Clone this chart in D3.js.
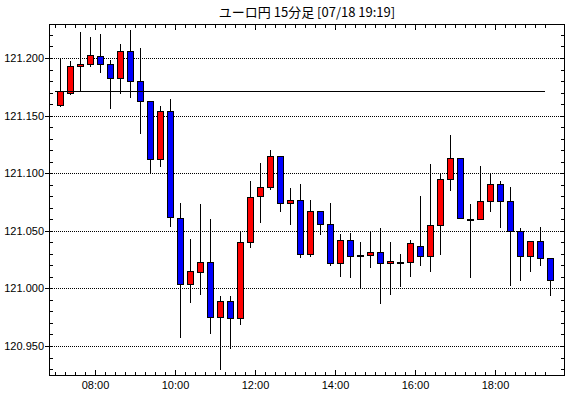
<!DOCTYPE html>
<html><head><meta charset="utf-8">
<script src="https://cdn.jsdelivr.net/npm/d3@7"></script>
<style>body{margin:0;background:#fff}svg{display:block}</style>
</head><body>
<svg id="c" width="570" height="398"></svg>
<script>
const title = "ユーロ円 15分足 [07/18 19:19]";
const times = ["07:00","07:15","07:30","07:45","08:00","08:15","08:30","08:45","09:00","09:15",
"09:30","09:45","10:00","10:15","10:30","10:45","11:00","11:15","11:30","11:45",
"12:00","12:15","12:30","12:45","13:00","13:15","13:30","13:45","14:00","14:15",
"14:30","14:45","15:00","15:15","15:30","15:45","16:00","16:15","16:30","16:45",
"17:00","17:15","17:30","17:45","18:00","18:15","18:30","18:45","19:00","19:15"];
const open = [121.159,121.170,121.193,121.195,121.202,121.195,121.183,121.206,121.180,121.163,
121.112,121.154,121.061,121.004,121.014,121.023,120.975,120.989,120.974,121.040,
121.080,121.088,121.115,121.074,121.077,121.030,121.067,121.056,121.022,121.042,
121.028,121.029,121.032,121.022,121.023,121.023,121.037,121.028,121.055,121.095,
121.113,121.060,121.060,121.076,121.091,121.076,121.050,121.028,121.041,121.026];
const high = [121.200,121.197,121.223,121.218,121.221,121.198,121.212,121.224,121.209,121.163,
121.158,121.164,121.074,121.043,121.073,121.060,120.993,120.993,121.049,121.093,
121.109,121.120,121.115,121.087,121.091,121.077,121.067,121.074,121.047,121.048,
121.040,121.049,121.052,121.040,121.030,121.042,121.080,121.108,121.100,121.133,
121.113,121.073,121.106,121.100,121.093,121.088,121.052,121.041,121.053,121.026];
const low = [121.158,121.169,121.171,121.193,121.188,121.157,121.170,121.166,121.135,121.100,
121.106,121.054,120.958,120.988,120.995,120.961,120.930,120.948,120.969,121.036,
121.058,121.086,121.067,121.056,121.027,121.028,121.047,121.020,121.011,121.010,
121.000,121.019,120.987,120.995,121.002,121.011,121.020,121.015,121.030,121.085,
121.061,121.010,121.060,121.067,121.053,121.003,121.007,121.015,121.020,120.994];
const close = [121.171,121.193,121.195,121.203,121.195,121.183,121.206,121.180,121.163,121.112,
121.154,121.062,121.004,121.015,121.023,120.975,120.989,120.974,121.040,121.079,
121.088,121.115,121.074,121.077,121.030,121.067,121.056,121.022,121.042,121.028,
121.029,121.032,121.022,121.024,121.023,121.039,121.028,121.055,121.095,121.113,
121.061,121.060,121.076,121.091,121.076,121.050,121.028,121.041,121.026,121.007];
const refLevel = 121.171;
const yTickLabels = ["120.950","121.000","121.050","121.100","121.150","121.200"];
const xTickLabels = ["08:00","10:00","12:00","14:00","16:00","18:00"];
const axisEnd = "19:45";

const parse = d3.timeParse("%H:%M");
const svg = d3.select("#c");
const FONT = "'Liberation Sans', Arial, sans-serif";
const L = 49, R = 564, T = 24, B = 375; // pixel rows/cols of frame

const x = d3.scaleTime().domain([parse(times[0]), parse(axisEnd)]).range([55, 565]);
const y = d3.scaleLinear().domain([120.95, 121.2]).range([346, 58]);
const px = v => Math.round(v) + 0.5;

const data = times.map((t, i) => ({t: parse(t), o: open[i], h: high[i], l: low[i], c: close[i]}));

// title
svg.append("text").attr("x", 307).attr("y", 17).attr("text-anchor", "middle")
  .attr("font-family", "'Noto Sans CJK JP', sans-serif").attr("font-size", 13)
  .attr("fill", "#000").text(title);

// gridlines
const majors = yTickLabels.map(Number);
svg.append("g").selectAll("line").data(majors).join("line")
  .attr("x1", L + 1).attr("x2", R).attr("y1", d => px(y(d))).attr("y2", d => px(y(d)))
  .attr("stroke", "#000").attr("stroke-width", 1).attr("stroke-dasharray", "1,1")
  .attr("shape-rendering", "crispEdges");

// candles
const cg = svg.append("g");
const cx = d => px(x(d.t)) + 5;
cg.selectAll("line.w").data(data).join("line").attr("class", "w")
  .attr("x1", cx).attr("x2", cx)
  .attr("y1", d => Math.round(y(d.h))).attr("y2", d => Math.round(y(d.l)) + 1)
  .attr("stroke", "#000").attr("stroke-width", 1).attr("shape-rendering", "crispEdges");
cg.selectAll("rect").data(data).join("rect")
  .attr("x", d => cx(d) - 3).attr("width", 6)
  .attr("y", d => Math.round(y(Math.max(d.o, d.c))) + 0.5)
  .attr("height", d => Math.max(1, Math.round(y(Math.min(d.o, d.c))) - Math.round(y(Math.max(d.o, d.c)))))
  .attr("fill", d => d.c > d.o ? "#ff0000" : (d.c < d.o ? "#0000ff" : "#000"))
  .attr("stroke", "#000").attr("stroke-width", 1).attr("shape-rendering", "crispEdges");

// reference line
svg.append("line")
  .attr("x1", x(data[0].t)).attr("x2", x(data[data.length - 1].t))
  .attr("y1", px(y(refLevel))).attr("y2", px(y(refLevel)))
  .attr("stroke", "#000").attr("stroke-width", 1).attr("shape-rendering", "crispEdges");

// frame
svg.append("rect").attr("x", L + 0.5).attr("y", T + 0.5).attr("width", R - L).attr("height", B - T)
  .attr("fill", "none").attr("stroke", "#000").attr("stroke-width", 1).attr("shape-rendering", "crispEdges");

// axes
const minorY = d3.range(0, 30).map(k => +(120.93 + k * 0.01).toFixed(2)).filter(v => y(v) > T + 1 && y(v) < B - 1);
const timeTicks = data.map(d => d.t);
const majorTimes = xTickLabels.map(parse);

function style(g) {
  g.select(".domain").remove();
  g.selectAll("line").attr("stroke", "#000").attr("shape-rendering", "crispEdges");
  g.selectAll("text").attr("font-family", FONT).attr("font-size", 11).attr("fill", "#000");
}
svg.append("g").attr("transform", `translate(${L + 1},0)`)
  .call(d3.axisLeft(y).tickValues(minorY).tickSize(-3).tickFormat("")).call(style);
svg.append("g").attr("transform", `translate(${R},0)`)
  .call(d3.axisRight(y).tickValues(minorY).tickSize(-3).tickFormat("")).call(style);
svg.append("g").attr("transform", `translate(${L},0)`)
  .call(d3.axisLeft(y).tickValues(majors).tickSize(4).tickPadding(1).tickFormat((d, i) => yTickLabels[i])).call(style);

svg.append("g").attr("transform", `translate(0,${B})`)
  .call(d3.axisBottom(x).tickValues(timeTicks).tickSize(-3).tickFormat("")).call(style);
svg.append("g").attr("transform", `translate(0,${B})`)
  .call(d3.axisBottom(x).tickValues(majorTimes).tickSize(-5).tickPadding(6).tickFormat((d, i) => xTickLabels[i])).call(style);
svg.append("g").attr("transform", `translate(0,${T + 1})`)
  .call(d3.axisTop(x).tickValues(timeTicks).tickSize(-3).tickFormat("")).call(style);
svg.append("g").attr("transform", `translate(0,${T + 1})`)
  .call(d3.axisTop(x).tickValues(majorTimes).tickSize(-5).tickFormat("")).call(style);
</script>
</body></html>
